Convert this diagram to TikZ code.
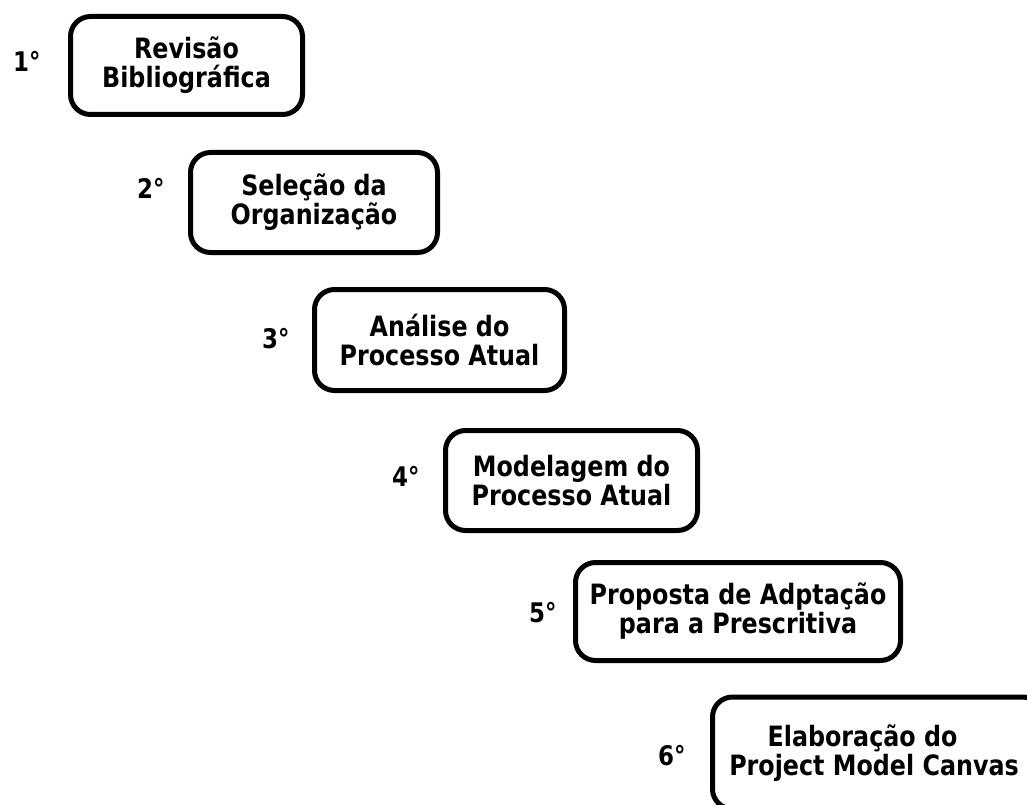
\documentclass[tikz,border=0pt]{standalone}
\usepackage{fontspec}
\setmainfont{DejaVu Sans}[FakeStretch=0.85]
\begin{document}
\begin{tikzpicture}[x=1pt,y=-1pt,
  stepbox/.style={draw=black, line width=5pt, rounded corners=20pt, inner sep=0pt,
    align=center, font=\fontsize{28}{29}\selectfont\bfseries},
  numlabel/.style={anchor=base west, inner sep=0pt, font=\fontsize{27}{29}\selectfont\bfseries}]
\useasboundingbox (0,0) rectangle (1027,805);
\clip (0,0) rectangle (1027,805);
\node[stepbox, minimum width=232pt, minimum height=98pt] (b1) at (186.5,65.5) {Revisão\\Bibliográfica};
\node[stepbox, minimum width=247pt, minimum height=100pt] (b2) at (314,202.5) {Seleção da\\Organização};
\node[stepbox, minimum width=250pt, minimum height=101pt] (b3) at (439.5,340) {Análise do\\Processo Atual};
\node[stepbox, minimum width=252pt, minimum height=100pt] (b4) at (571.5,480.5) {Modelagem do\\Processo Atual};
\node[stepbox, minimum width=325pt, minimum height=98pt] (b5) at (738,611.5) {Proposta de Adptação\\para a Prescritiva};
\node[stepbox, minimum width=330pt, minimum height=112pt] (b6) at (877.5,753) {Elaboração do\hspace*{30pt}\\Project Model Canvas\hspace*{7pt}};
\node[numlabel] (n1) at (13,72) {1°};
\node[numlabel] (n2) at (137,198) {2°};
\node[numlabel] (n3) at (262,348) {3°};
\node[numlabel] (n4) at (392,486) {4°};
\node[numlabel] (n5) at (529,622) {5°};
\node[numlabel] (n6) at (658,765) {6°};
\end{tikzpicture}
\end{document}
